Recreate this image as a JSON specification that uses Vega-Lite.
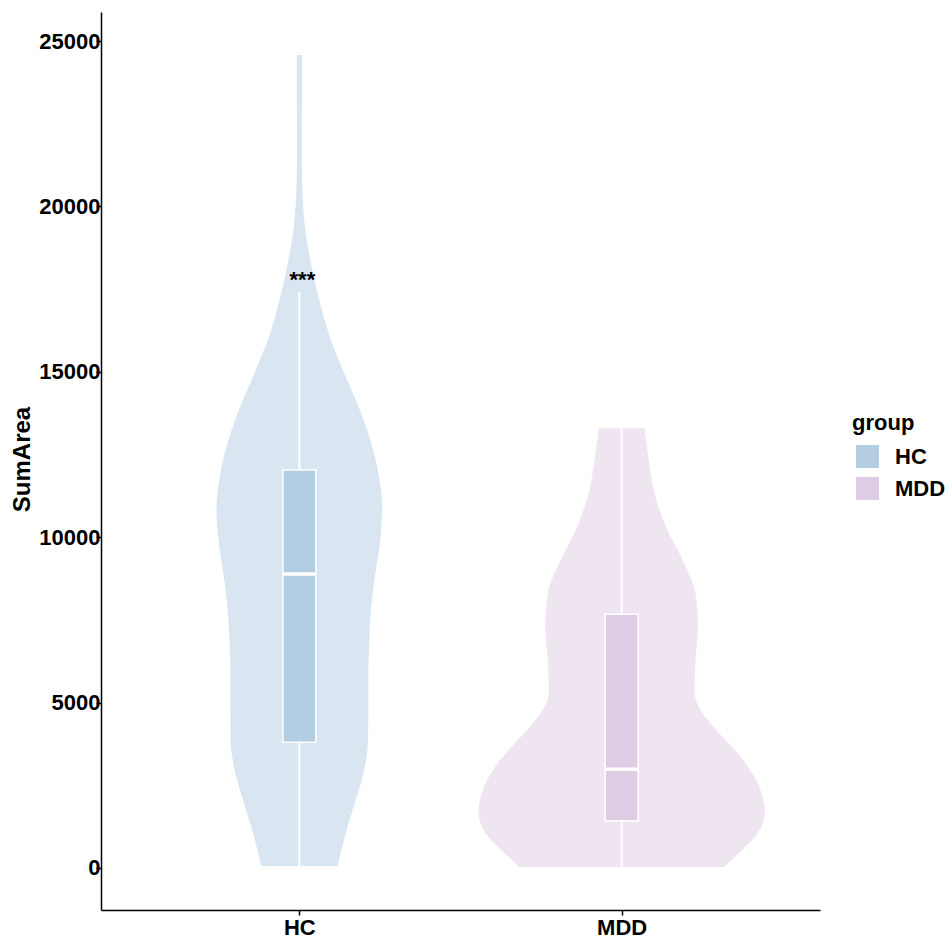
{
  "$schema": "https://vega.github.io/schema/vega-lite/v6.json",
  "width": 719,
  "height": 898,
  "autosize": "none",
  "padding": {"left": 101, "top": 12, "right": 129, "bottom": 29},
  "background": "white",
  "config": {
    "view": {"stroke": null},
    "font": "Liberation Sans",
    "axis": {
      "grid": false,
      "domainColor": "black",
      "domainWidth": 1.5,
      "tickColor": "black",
      "tickWidth": 1.5,
      "tickSize": 5,
      "labelFont": "Liberation Sans",
      "labelFontSize": 22,
      "labelFontWeight": "bold",
      "labelColor": "black",
      "titleFont": "Liberation Sans",
      "titleFontSize": 24,
      "titleFontWeight": "bold",
      "titleColor": "black"
    },
    "legend": {
      "titleFont": "Liberation Sans",
      "titleFontSize": 22,
      "titleFontWeight": "bold",
      "titleColor": "black",
      "labelFont": "Liberation Sans",
      "labelFontSize": 22,
      "labelFontWeight": "bold",
      "labelColor": "black"
    }
  },
  "datasets": {
    "violin": [
      {"group": "HC", "SumArea": 60, "w": 0.119},
      {"group": "HC", "SumArea": 846, "w": 0.138},
      {"group": "HC", "SumArea": 1844, "w": 0.168},
      {"group": "HC", "SumArea": 2872, "w": 0.199},
      {"group": "HC", "SumArea": 3869, "w": 0.213},
      {"group": "HC", "SumArea": 4867, "w": 0.214},
      {"group": "HC", "SumArea": 5895, "w": 0.214},
      {"group": "HC", "SumArea": 6892, "w": 0.217},
      {"group": "HC", "SumArea": 7890, "w": 0.223},
      {"group": "HC", "SumArea": 8918, "w": 0.236},
      {"group": "HC", "SumArea": 9915, "w": 0.251},
      {"group": "HC", "SumArea": 10913, "w": 0.257},
      {"group": "HC", "SumArea": 11941, "w": 0.245},
      {"group": "HC", "SumArea": 12938, "w": 0.22},
      {"group": "HC", "SumArea": 13936, "w": 0.184},
      {"group": "HC", "SumArea": 14964, "w": 0.139},
      {"group": "HC", "SumArea": 15961, "w": 0.098},
      {"group": "HC", "SumArea": 16959, "w": 0.067},
      {"group": "HC", "SumArea": 17987, "w": 0.042},
      {"group": "HC", "SumArea": 18470, "w": 0.032},
      {"group": "HC", "SumArea": 19498, "w": 0.016},
      {"group": "HC", "SumArea": 20496, "w": 0.009},
      {"group": "HC", "SumArea": 22007, "w": 0.007},
      {"group": "HC", "SumArea": 23216, "w": 0.008},
      {"group": "HC", "SumArea": 24577, "w": 0.008},
      {"group": "MDD", "SumArea": 30, "w": 0.318},
      {"group": "MDD", "SumArea": 484, "w": 0.367},
      {"group": "MDD", "SumArea": 937, "w": 0.413},
      {"group": "MDD", "SumArea": 1663, "w": 0.444},
      {"group": "MDD", "SumArea": 2267, "w": 0.434},
      {"group": "MDD", "SumArea": 3265, "w": 0.377},
      {"group": "MDD", "SumArea": 3779, "w": 0.331},
      {"group": "MDD", "SumArea": 4262, "w": 0.285},
      {"group": "MDD", "SumArea": 4776, "w": 0.245},
      {"group": "MDD", "SumArea": 5290, "w": 0.226},
      {"group": "MDD", "SumArea": 6288, "w": 0.229},
      {"group": "MDD", "SumArea": 7285, "w": 0.237},
      {"group": "MDD", "SumArea": 8313, "w": 0.229},
      {"group": "MDD", "SumArea": 9311, "w": 0.189},
      {"group": "MDD", "SumArea": 10308, "w": 0.138},
      {"group": "MDD", "SumArea": 11336, "w": 0.102},
      {"group": "MDD", "SumArea": 12334, "w": 0.084},
      {"group": "MDD", "SumArea": 13292, "w": 0.071}
    ],
    "box": [
      {"group": "HC", "min": 60, "q1": 3800, "median": 8888, "q3": 12032, "max": 17404},
      {"group": "MDD", "min": 30, "q1": 1430, "median": 2984, "q3": 7669, "max": 13292}
    ],
    "annot": [
      {"group": "HC", "SumArea": 17563, "label": "***"}
    ]
  },
  "layer": [
    {
      "data": {"name": "violin"},
      "transform": [
        {"calculate": "datum.group === 'HC' ? 1 : 2", "as": "pos"},
        {"calculate": "datum.pos - datum.w", "as": "lo"},
        {"calculate": "datum.pos + datum.w", "as": "hi"}
      ],
      "mark": {"type": "area", "orient": "horizontal", "interpolate": "monotone", "fillOpacity": 0.5, "strokeWidth": 0},
      "encoding": {
        "y": {
          "field": "SumArea", "type": "quantitative",
          "scale": {"domain": [-1270, 25877], "nice": false, "zero": false},
          "axis": {"values": [0, 5000, 10000, 15000, 20000, 25000], "format": "d", "labelPadding": -4, "title": "SumArea", "titleX": -79, "titleY": 447, "titleAngle": -90, "titleAlign": "center", "titleBaseline": "middle"}
        },
        "x": {
          "field": "lo", "type": "quantitative",
          "scale": {"domain": [0.4, 2.6], "nice": false, "zero": false},
          "axis": {"values": [1, 2], "labelExpr": "datum.value === 1 ? 'HC' : 'MDD'", "labelPadding": 2, "title": null}
        },
        "x2": {"field": "hi"},
        "color": {
          "field": "group", "type": "nominal",
          "scale": {"domain": ["HC", "MDD"], "range": ["#B3CDE3", "#DECBE4"]},
          "legend": {"orient": "none", "legendX": 751, "legendY": 401, "title": "group", "symbolType": "square", "symbolSize": 529, "symbolOpacity": 1, "symbolStrokeWidth": 0, "symbolOffset": 4, "titlePadding": 10, "rowPadding": 9, "labelOffset": 16}
        }
      }
    },
    {
      "data": {"name": "box"},
      "transform": [{"calculate": "datum.group === 'HC' ? 1 : 2", "as": "pos"}],
      "mark": {"type": "rule", "color": "white", "strokeWidth": 2},
      "encoding": {
        "x": {"field": "pos", "type": "quantitative", "axis": {"title": null}},
        "y": {"field": "min", "type": "quantitative", "axis": {"title": "SumArea"}},
        "y2": {"field": "max"}
      }
    },
    {
      "data": {"name": "box"},
      "transform": [{"calculate": "datum.group === 'HC' ? 1 : 2", "as": "pos"}],
      "mark": {"type": "bar", "size": 33, "stroke": "white", "strokeWidth": 1.5},
      "encoding": {
        "x": {"field": "pos", "type": "quantitative", "axis": {"title": null}},
        "y": {"field": "q1", "type": "quantitative", "axis": {"title": "SumArea"}},
        "y2": {"field": "q3"},
        "color": {"field": "group", "type": "nominal"}
      }
    },
    {
      "data": {"name": "box"},
      "transform": [{"calculate": "datum.group === 'HC' ? 1 : 2", "as": "pos"}],
      "mark": {"type": "tick", "orient": "horizontal", "color": "white", "size": 33, "thickness": 3.5, "opacity": 1},
      "encoding": {
        "x": {"field": "pos", "type": "quantitative", "axis": {"title": null}},
        "y": {"field": "median", "type": "quantitative", "axis": {"title": "SumArea"}}
      }
    },
    {
      "data": {"name": "annot"},
      "transform": [{"calculate": "datum.group === 'HC' ? 1 : 2", "as": "pos"}],
      "mark": {"type": "text", "font": "Liberation Sans", "fontSize": 22, "fontWeight": "bold", "color": "black", "align": "center", "baseline": "alphabetic", "dx": 3},
      "encoding": {
        "x": {"field": "pos", "type": "quantitative", "axis": {"title": null}},
        "y": {"field": "SumArea", "type": "quantitative", "axis": {"title": "SumArea"}},
        "text": {"field": "label"}
      }
    }
  ]
}
